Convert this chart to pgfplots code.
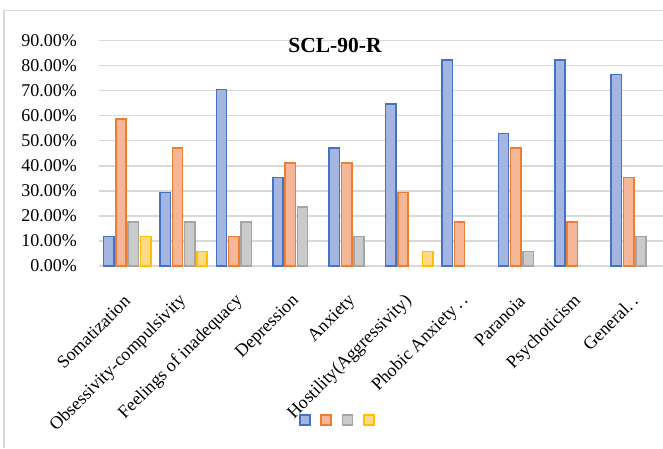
\documentclass[border=0pt]{standalone}
\usepackage{fontspec}
\setmainfont{Liberation Serif}
\usepackage{pgfplots}
\pgfplotsset{compat=1.18}

\definecolor{sblue}{HTML}{4472C4}
\definecolor{sbluef}{HTML}{A3B5E0}
\definecolor{sorange}{HTML}{ED7D31}
\definecolor{sorangef}{HTML}{F5B797}
\definecolor{sgray}{HTML}{A5A5A5}
\definecolor{sgrayf}{HTML}{CACACA}
\definecolor{syellow}{HTML}{FFC000}
\definecolor{syellowf}{HTML}{FFD98A}
\definecolor{gridgray}{HTML}{D9D9D9}

\begin{document}
\begin{tikzpicture}[x=1pt,y=1pt]
\path[use as bounding box] (0,0) rectangle (663,448);
% chart frame
\draw[color=gridgray, line width=1.4pt] (663,437.5) -- (4,437.5) -- (4,0);

\begin{axis}[
  at={(99pt,182pt)}, anchor=south west,
  scale only axis, width=564pt, height=225.3pt,
  xmin=-0.5, xmax=9.5, ymin=0, ymax=90,
  axis line style={draw=none},
  tick style={draw=none},
  ymajorgrids, grid style={color=gridgray, line width=1.3pt},
  ytick={0,10,...,90},
  yticklabel={\pgfmathprintnumber[fixed,fixed zerofill,precision=2]{\tick}\%},
  /pgf/number format/assume math mode=true,
  yticklabel style={font=\fontsize{18}{20}\selectfont, inner sep=0pt, xshift=-22pt},
  xtick={0,...,9},
  xticklabels={Somatization, Obsessivity-compulsivity, Feelings of inadequacy, Depression, Anxiety, Hostility(Aggressivity), Phobic Anxiety\,.\,., Paranoia, Psychoticism, General.\,.},
  xticklabel style={font=\fontsize{18}{20}\selectfont, inner sep=0pt, xshift=0pt, yshift=-28pt, rotate=45, anchor=east},
  ybar=2pt, bar width=10.3pt,
  every axis plot/.append style={line width=1.5pt},
  legend columns=-1,
  legend image code/.code={\draw[#1, line width=1.5pt] (0pt,-5pt) rectangle (10pt,5pt);},
  legend style={at={(0.4265,-0.6835)}, anchor=center, draw=none, fill=none,
    inner sep=0pt, nodes={inner sep=0pt}, column sep=4.4pt},
]
\addplot[draw=sblue, fill=sbluef] coordinates {
  (0,11.76) (1,29.41) (2,70.59) (3,35.29) (4,47.06)
  (5,64.71) (6,82.35) (7,52.94) (8,82.35) (9,76.47)};
\addlegendentry{\hbox{}}
\addplot[draw=sorange, fill=sorangef] coordinates {
  (0,58.82) (1,47.06) (2,11.76) (3,41.18) (4,41.18)
  (5,29.41) (6,17.65) (7,47.06) (8,17.65) (9,35.29)};
\addlegendentry{\hbox{}}
\addplot[draw=sgray, fill=sgrayf] coordinates {
  (0,17.65) (1,17.65) (2,17.65) (3,23.53) (4,11.76)
  (7,5.88) (9,11.76)};
\addlegendentry{\hbox{}}
\addplot[draw=syellow, fill=syellowf] coordinates {
  (0,11.76) (1,5.88) (5,5.88)};
\addlegendentry{\hbox{}}
\end{axis}

\node[font=\bfseries\fontsize{21.5}{24}\selectfont] at (335,403) {SCL-90-R};
\end{tikzpicture}
\end{document}
